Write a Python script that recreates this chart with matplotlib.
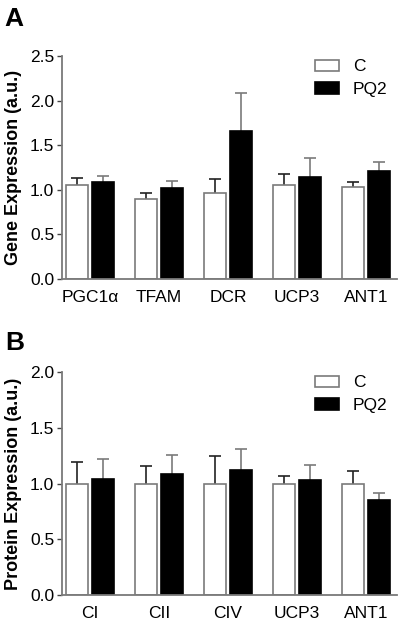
import numpy as np
import matplotlib
matplotlib.use("Agg")
import matplotlib.pyplot as plt

plt.rcParams['font.family'] = ['Liberation Sans', 'DejaVu Sans']

# ---- data ----
gene_labels = ['PGC1α', 'TFAM', 'DCR', 'UCP3', 'ANT1']
gene_c = [1.058, 0.90, 0.963, 1.05, 1.028]
gene_c_err = [0.071, 0.068, 0.155, 0.131, 0.063]
gene_pq2 = [1.084, 1.024, 1.659, 1.143, 1.211]
gene_pq2_err = [0.074, 0.078, 0.426, 0.210, 0.101]

prot_labels = ['CI', 'CII', 'CIV', 'UCP3', 'ANT1']
prot_c = [1.0, 1.0, 1.0, 1.0, 1.0]
prot_c_err = [0.196, 0.160, 0.249, 0.067, 0.115]
prot_pq2 = [1.043, 1.085, 1.121, 1.034, 0.855]
prot_pq2_err = [0.180, 0.168, 0.191, 0.135, 0.060]

GRAY = '#7a7a7a'
W = 0.32
OFF = 0.19


def draw_panel(ax, labels, c, c_err, pq, pq_err, ymax, ylabel, leg_y):
    x = np.arange(len(labels))
    bc = ax.bar(x - OFF, c, W, color='white', edgecolor=GRAY, linewidth=1.2,
                label='C', zorder=2)
    bp = ax.bar(x + OFF, pq, W, color='black', edgecolor='black', linewidth=1.2,
                label='PQ2', zorder=2)
    # upper error bars only
    for xs, ys, es, col in [(x - OFF, c, c_err, '#222222'), (x + OFF, pq, pq_err, GRAY)]:
        eb = ax.errorbar(xs, ys, yerr=[np.zeros(len(es)), es], fmt='none',
                         ecolor=col, elinewidth=1.2, capsize=4.3, capthick=1.2,
                         zorder=1)
        eb[1][0].set_visible(False)

    ax.set_xlim(-0.406, 4.449)
    ax.set_ylim(0, ymax)
    ax.set_yticks(np.arange(0, ymax + 0.01, 0.5))
    ax.yaxis.set_major_formatter(plt.FormatStrFormatter('%.1f'))
    ax.set_xticks(x)
    ax.set_xticklabels(labels)
    ax.tick_params(axis='x', length=0, pad=8, labelsize=12.5)
    ax.tick_params(axis='y', length=3.5, width=1.0, color='#444444', pad=2,
                   labelsize=12.5)
    for s in ['top', 'right']:
        ax.spines[s].set_visible(False)
    for s in ['left', 'bottom']:
        ax.spines[s].set_color(GRAY)
        ax.spines[s].set_linewidth(1.3)
    ax.set_ylabel(ylabel, fontsize=13, fontweight='bold', labelpad=6)
    ax.legend(handles=[bc, bp], loc='upper left', bbox_to_anchor=(0.755, leg_y),
              frameon=False, fontsize=12.5, handlelength=1.38,
              handleheight=0.63, handletextpad=0.8, labelspacing=0.45,
              borderpad=0, borderaxespad=0)


fig = plt.figure(figsize=(4.0, 6.22), dpi=100)
ax_a = fig.add_axes([0.155, 0.5514, 0.8375, 0.3585])
ax_b = fig.add_axes([0.155, 0.0434, 0.8375, 0.3585])

draw_panel(ax_a, gene_labels, gene_c, gene_c_err, gene_pq2, gene_pq2_err, 2.5,
           'Gene Expression (a.u.)', 0.985)
draw_panel(ax_b, prot_labels, prot_c, prot_c_err, prot_pq2, prot_pq2_err, 2.0,
           'Protein Expression (a.u.)', 0.985)

fig.text(0.012, 0.988, 'A', fontsize=19, fontweight='bold', va='top', ha='left')
fig.text(0.012, 0.468, 'B', fontsize=19, fontweight='bold', va='top', ha='left')

fig.savefig('out.png', dpi=100)
